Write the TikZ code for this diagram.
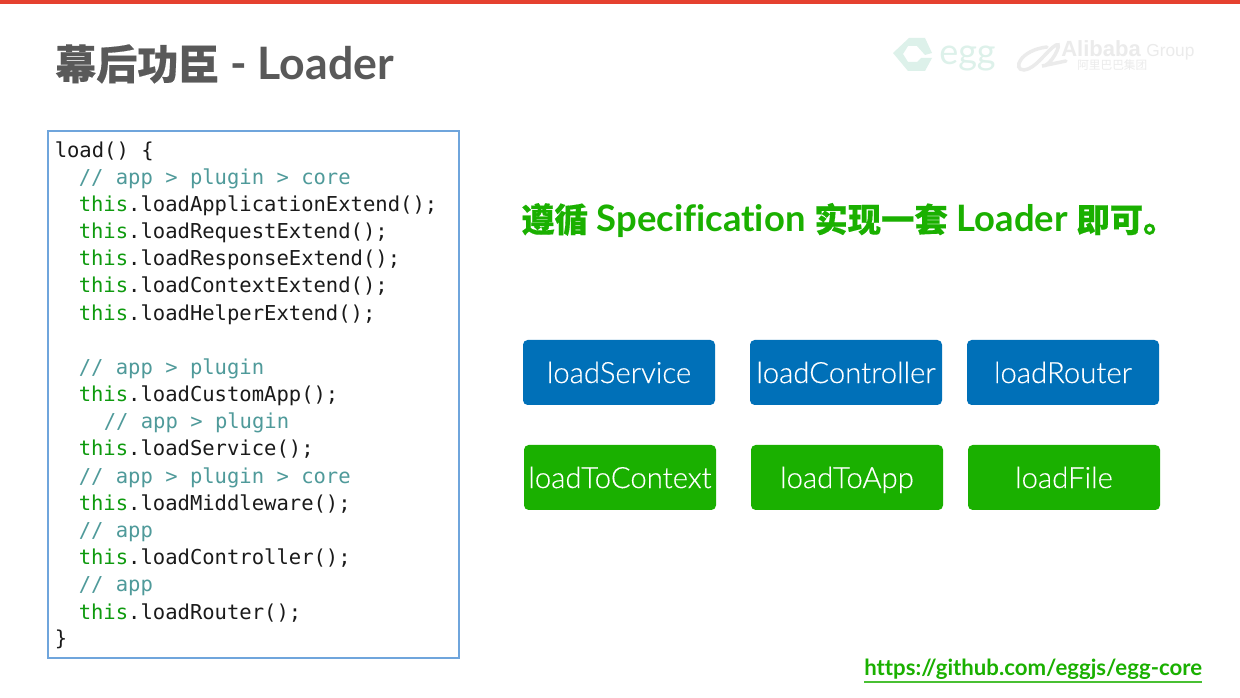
\documentclass[tikz,border=0pt]{standalone}
\usepackage{fontspec}
\setmainfont[Ligatures=NoCommon]{Lato}
\setmonofont{DejaVu Sans Mono}
\newfontfamily\cjk[FakeBold=0.4]{Noto Sans CJK SC}
\newfontfamily\cjkplain{Noto Sans CJK SC}
\newfontfamily\btnfont[Ligatures=NoCommon,FakeBold=0.3]{Lato Light}
\newfontfamily\arial{Liberation Sans}
\definecolor{barred}{HTML}{E5412F}
\definecolor{titlegray}{HTML}{595959}
\definecolor{boxblue}{HTML}{0070B8}
\definecolor{boxgreen}{HTML}{1AB000}
\definecolor{codegreen}{HTML}{0E9A0E}
\definecolor{codecomment}{HTML}{4F9A9A}
\definecolor{codeframe}{HTML}{6FA5DC}
\definecolor{codeink}{HTML}{1A1A1A}
\definecolor{logogreen}{HTML}{DDF1EA}
\definecolor{logogray}{HTML}{EBEBEB}
\newcommand{\kw}[1]{\textcolor{codegreen}{#1}}
\tikzset{
  btn/.style={rounded corners=3.5pt,minimum width=144pt,minimum height=48.75pt,inner sep=0pt,text=white,text height=18pt,text depth=2.2pt,font=\btnfont\fontsize{22pt}{24pt}\selectfont},
  bluebtn/.style={btn,fill=boxblue},
  greenbtn/.style={btn,fill=boxgreen},
  code/.style={anchor=base west,inner sep=0pt,text=codeink,font=\ttfamily\fontsize{15.4pt}{18pt}\selectfont},
  comment/.style={code,text=codecomment},
  free/.style={anchor=base west,inner sep=0pt}
}
\begin{document}
\begin{tikzpicture}[x=0.75pt,y=-0.75pt]
\useasboundingbox (0,0) rectangle (1240,698);
\fill[white] (0,0) rectangle (1240,698);
\fill[barred] (0,0) rectangle (1240,4);
\node[free,text=titlegray] (title) at (55,79.5) {\fontsize{33.5pt}{36pt}\selectfont\bfseries{\cjk\fontsize{30.8pt}{36pt}\selectfont 幕后功臣} - Loader};
% logos
\fill[logogreen,even odd rule] (893,53) -- (909,38) -- (925,38) -- (932,53) -- (925,55) -- (917,46) -- (908,46) -- (903,54) -- (908,62) -- (917,62) -- (921,58) -- (932,58) -- (925,71) -- (908,71) -- cycle;
\node[free,text=logogreen] (egg) at (939,65) {\fontsize{27pt}{30pt}\selectfont egg};
\draw[logogray,line width=2.6pt,line cap=round] (1047,47) .. controls (1020,50) and (1012,70) .. (1024,70) .. controls (1036,69) and (1047,50) .. (1056,45) .. controls (1064,41) and (1050,68) .. (1042,66) -- (1066,61);
\node[free,text=logogray] (alibaba) at (1061,57) {\arial\fontsize{16.5pt}{18pt}\selectfont\bfseries Alibaba};
\node[free,text=logogray] (group) at (1146,57) {\arial\fontsize{13pt}{16pt}\selectfont Group};
\node[free,text=logogray] (alicn) at (1077,70) {\cjkplain\fontsize{8.75pt}{10pt}\selectfont 阿里巴巴集团};
% code
\draw[codeframe,line width=1.5pt] (48,131) rectangle (459,658);
\node[code] (c1) at (54.5,158) {load() \{};
\node[comment] (c2) at (78.5,185) {// app > plugin > core};
\node[code] (c3) at (78.5,212) {\kw{this}.loadApplicationExtend();};
\node[code] (c4) at (78.5,239) {\kw{this}.loadRequestExtend();};
\node[code] (c5) at (78.5,266) {\kw{this}.loadResponseExtend();};
\node[code] (c6) at (78.5,293) {\kw{this}.loadContextExtend();};
\node[code] (c7) at (78.5,321) {\kw{this}.loadHelperExtend();};
\node[comment] (c8) at (78.5,375) {// app > plugin};
\node[code] (c9) at (78.5,402) {\kw{this}.loadCustomApp();};
\node[comment] (c10) at (103.5,429) {// app > plugin};
\node[code] (c11) at (78.5,456) {\kw{this}.loadService();};
\node[comment] (c12) at (78.5,484) {// app > plugin > core};
\node[code] (c13) at (78.5,511) {\kw{this}.loadMiddleware();};
\node[comment] (c14) at (78.5,538) {// app};
\node[code] (c15) at (78.5,565) {\kw{this}.loadController();};
\node[comment] (c16) at (78.5,592) {// app};
\node[code] (c17) at (78.5,619) {\kw{this}.loadRouter();};
\node[code] (c18) at (54.5,646) {\}};
% slogan
\node[free,text=boxgreen] (slogan) at (521,232) {\fontsize{27.3pt}{28pt}\selectfont\bfseries{\cjk\fontsize{25pt}{28pt}\selectfont 遵循} Specification {\cjk\fontsize{25pt}{28pt}\selectfont 实现一套} Loader {\cjk\fontsize{25pt}{28pt}\selectfont 即可。}};
% buttons
\node[bluebtn] (b1) at (619,372.5) {loadService};
\node[bluebtn] (b2) at (846,372.5) {loadController};
\node[bluebtn] (b3) at (1063,372.5) {loadRouter};
\node[greenbtn] (g1) at (620,477.5) {loadToContext};
\node[greenbtn] (g2) at (847,477.5) {loadToApp};
\node[greenbtn] (g3) at (1064,477.5) {loadFile};
% link
\node[free,text=boxgreen] (link) at (864,675.5) {\fontsize{16.65pt}{20pt}\selectfont\bfseries https://github.com/eggjs/egg-core};
\coordinate (ul1) at (864,682);
\coordinate (ul2) at (1202,682);
\draw[boxgreen!80,line width=0.8pt] (ul1) -- (ul2);
\end{tikzpicture}
\end{document}
